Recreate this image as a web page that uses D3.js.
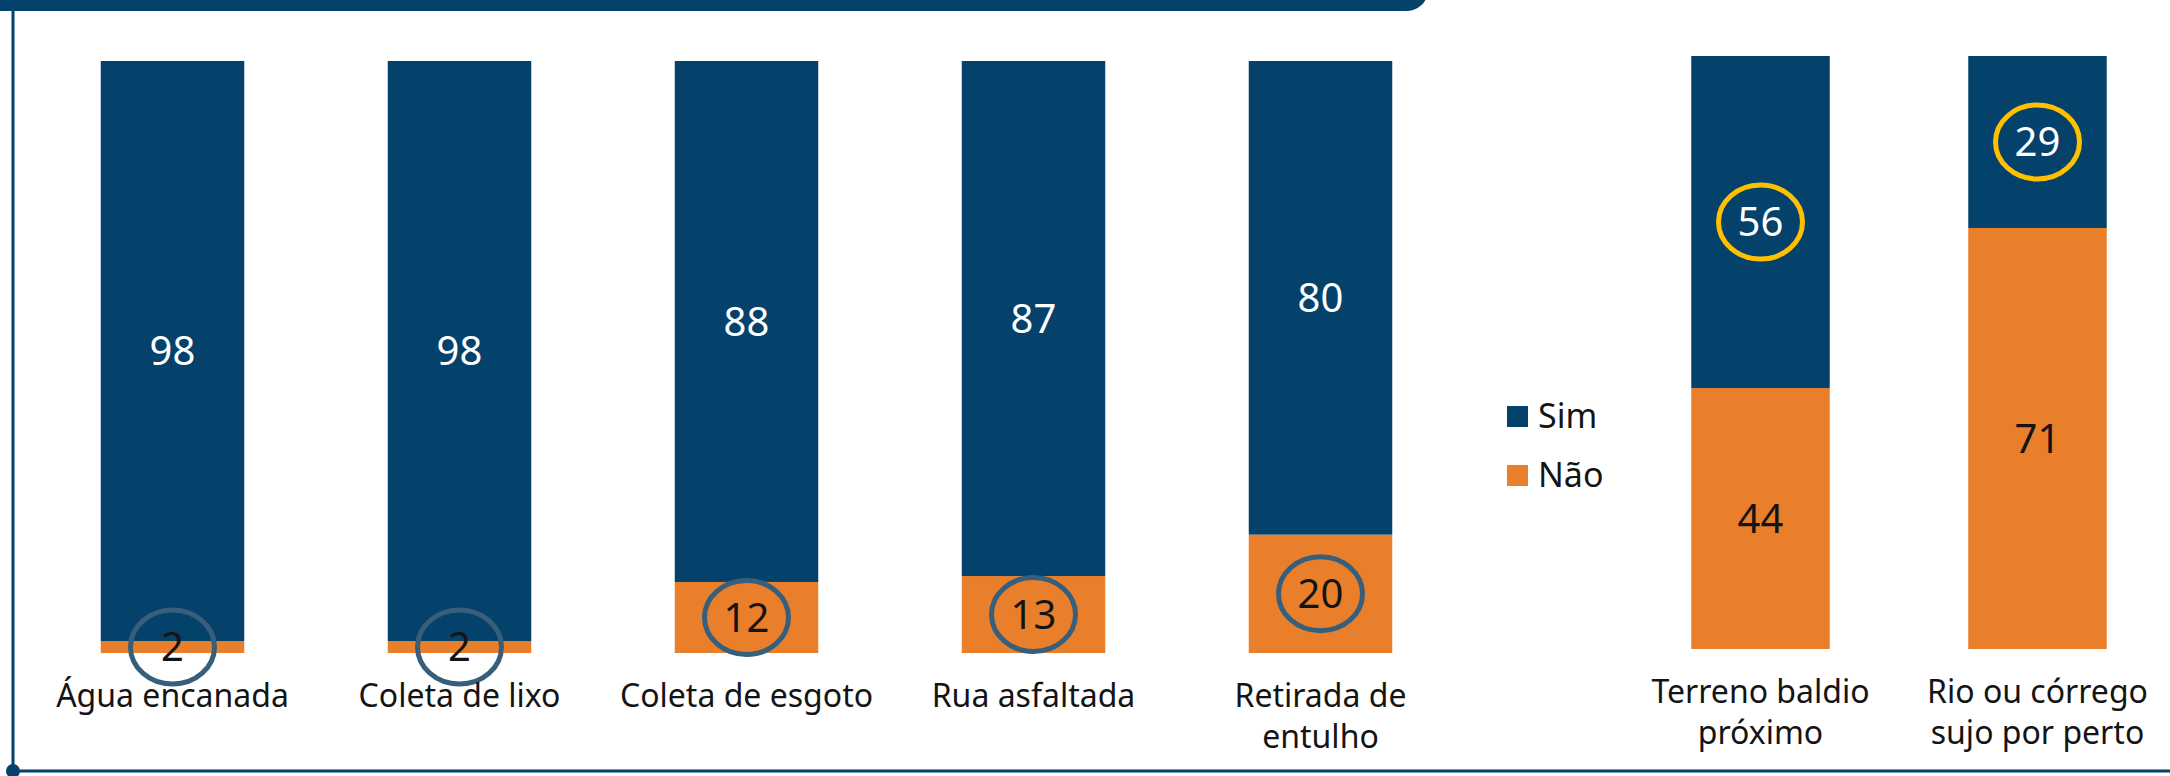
<!DOCTYPE html>
<html>
<head>
<meta charset="utf-8">
<script src="https://d3js.org/d3.v7.min.js"></script>
<style>
  body { margin: 0; background: #ffffff; }
  text { font-family: "Noto Sans", "DejaVu Sans", sans-serif; }
</style>
</head>
<body>
<div id="chart"></div>
<script>
// Data

var categoriesLeft = ["Água encanada", "Coleta de lixo", "Coleta de esgoto", "Rua asfaltada", "Retirada de\nentulho"];
var simLeft = [98, 98, 88, 87, 80];
var naoLeft = [2, 2, 12, 13, 20];

var categoriesRight = ["Terreno baldio\npróximo", "Rio ou córrego\nsujo por perto"];
var simRight = [56, 29];
var naoRight = [44, 71];

var seriesNames = ["Sim", "Não"];

var navy = "#04416b";
var orange = "#ea7f2b";
var ring = "#375f7c";
var gold = "#ffc000";

var width = 2170;
var height = 776;

var svg = d3.select("#chart")
  .append("svg")
  .attr("width", width)
  .attr("height", height);

// Frame: header band, left rule, bottom rule

svg.append("rect")
  .attr("x", -30)
  .attr("y", -30)
  .attr("width", 1458)
  .attr("height", 41)
  .attr("rx", 22)
  .attr("fill", navy);

svg.append("line")
  .attr("x1", 13).attr("y1", 10)
  .attr("x2", 13).attr("y2", 771)
  .attr("stroke", navy)
  .attr("stroke-width", 3);

svg.append("line")
  .attr("x1", 13).attr("y1", 771)
  .attr("x2", width).attr("y2", 771)
  .attr("stroke", navy)
  .attr("stroke-width", 3);

svg.append("circle")
  .attr("cx", 13)
  .attr("cy", 771)
  .attr("r", 7)
  .attr("fill", navy);

// Draw one stacked group

function drawGroup(cats, sim, nao, xRange, yRange, ringColor, ringOnSim) {
  var data = cats.map(function(c, i) { return {cat: c, sim: sim[i], nao: nao[i]}; });

  var xScale = d3.scaleBand()
    .domain(cats)
    .range(xRange)
    .paddingInner(0.5)
    .paddingOuter(0.25);

  var yScale = d3.scaleLinear()
    .domain([0, 100])
    .range(yRange);

  var g = svg.selectAll(null)
    .data(data)
    .enter().append("g")
    .attr("transform", d => `translate(${xScale(d.cat)}, 0)`);

  var bw = xScale.bandwidth();

  // Não (bottom)
  g.append("rect")
    .attr("x", 0)
    .attr("y", d => yScale(d.nao))
    .attr("width", bw)
    .attr("height", d => yScale(0) - yScale(d.nao))
    .attr("fill", orange);

  // Sim (top)
  g.append("rect")
    .attr("x", 0)
    .attr("y", d => yScale(d.nao + d.sim))
    .attr("width", bw)
    .attr("height", d => yScale(d.nao) - yScale(d.nao + d.sim))
    .attr("fill", navy);

  var simY = d => (yScale(d.nao) + yScale(d.nao + d.sim)) / 2;
  var naoY = d => (yScale(0) + yScale(d.nao)) / 2;

  g.append("text")
    .attr("x", bw / 2)
    .attr("y", simY)
    .attr("dy", "0.36em")
    .attr("text-anchor", "middle")
    .attr("font-size", 40)
    .attr("fill", "#ffffff")
    .text(d => d.sim);

  g.append("text")
    .attr("x", bw / 2)
    .attr("y", naoY)
    .attr("dy", "0.36em")
    .attr("text-anchor", "middle")
    .attr("font-size", 40)
    .attr("fill", "#141414")
    .text(d => d.nao);

  // highlight rings
  g.append("ellipse")
    .attr("cx", bw / 2)
    .attr("cy", ringOnSim ? simY : naoY)
    .attr("rx", 42)
    .attr("ry", 37)
    .attr("fill", "none")
    .attr("stroke", ringColor)
    .attr("stroke-width", 5);

  // category labels
  g.append("text")
    .attr("x", bw / 2)
    .attr("y", yScale(0) + 54)
    .attr("text-anchor", "middle")
    .attr("font-size", 32)
    .attr("fill", "#141414")
    .selectAll("tspan")
    .data(d => d.cat.split("\n"))
    .enter().append("tspan")
    .attr("x", bw / 2)
    .attr("dy", (d, i) => i === 0 ? 0 : 41)
    .text(d => d);
}

drawGroup(categoriesLeft, simLeft, naoLeft, [29, 1464], [653, 61], ring, false);
drawGroup(categoriesRight, simRight, naoRight, [1622, 2176], [649, 56], gold, true);

// Legend

var legend = svg.selectAll(".legend")
  .data(seriesNames)
  .enter().append("g")
  .attr("class", "legend")
  .attr("transform", (d, i) => `translate(1507, ${406 + i * 59})`);

legend.append("rect")
  .attr("width", 21)
  .attr("height", 21)
  .attr("fill", (d, i) => i === 0 ? navy : orange);

legend.append("text")
  .attr("x", 31)
  .attr("y", 22)
  .attr("font-size", 34)
  .attr("fill", "#141414")
  .text(d => d);
</script>
</body>
</html>
